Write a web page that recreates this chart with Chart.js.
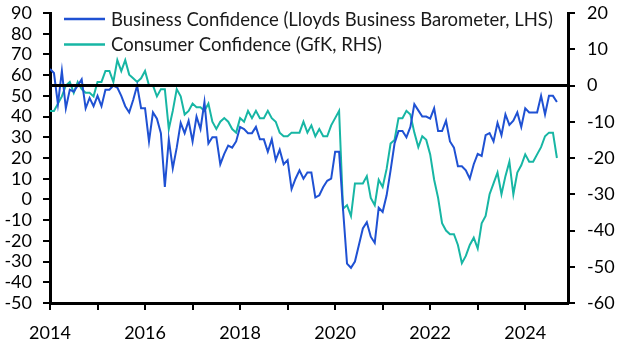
<!DOCTYPE html>
<html>
<head>
<meta charset="utf-8">
<script src="https://cdn.jsdelivr.net/npm/chart.js@4.4.1/dist/chart.umd.min.js"></script>
<style>
  html, body { margin: 0; padding: 0; background: #fff; }
</style>
</head>
<body>
<canvas id="graph1" width="627" height="352"></canvas>
<script>
// monthly readings, Jan 2014 -> Sep 2024
var startYear = 2014

// Lloyds Business Barometer (LHS)
var business = [
  63, 61, 46, 62, 44, 53, 52, 55, 58, 44, 49, 45,
  50, 45, 53, 53, 55, 54, 50, 45, 42, 48, 55, 44,
  44, 28, 42, 39, 32, 6, 29, 15, 25, 37, 32, 38,
  28, 40, 34, 47, 27, 30, 30, 17, 22, 26, 25, 28,
  35, 34, 32, 32, 35, 29, 29, 23, 29, 19, 24, 17,
  19, 5, 10, 14, 10, 13, 13, 1, 2, 6, 9, 10,
  23, 23, -5, -31, -33, -30, -22, -14, -11, -18, -21, -4,
  -6, 2, 14, 27, 33, 33, 30, 35, 46, 43, 40, 40,
  39, 44, 33, 33, 38, 28, 25, 16, 16, 14, 10, 17,
  22, 21, 31, 32, 28, 37, 31, 41, 36, 38, 42, 35,
  44, 42, 42, 42, 50, 41, 50, 50, 47
]

// GfK consumer confidence (RHS)
var consumer = [
  -7, -7, -5, -3, 0, 1, -2, 1, -1, -2, -2, -3,
  1, 1, 4, 4, 1, 7, 4, 7, 3, 2, 1, 2,
  4, 0, 0, -3, -1, -1, -12, -7, -1, -3, -8, -7,
  -5, -6, -6, -7, -5, -10, -12, -10, -9, -10, -12, -13,
  -9, -10, -7, -9, -7, -9, -9, -7, -9, -10, -13, -14,
  -14, -13, -13, -13, -10, -13, -11, -14, -12, -14, -14, -11,
  -9, -7, -34, -33, -36, -27, -27, -27, -25, -31, -33, -26,
  -28, -23, -16, -15, -9, -9, -7, -8, -13, -17, -14, -15,
  -19, -26, -31, -38, -40, -41, -41, -44, -49, -47, -44, -42,
  -45, -38, -36, -30, -27, -24, -30, -25, -21, -30, -24, -22,
  -19, -21, -21, -19, -17, -14, -13, -13, -20
]

var seriesLabels = [
  'Business Confidence (Lloyds Business Barometer, LHS)',
  'Consumer Confidence (GfK, RHS)'
]
var xLabelYears = [2014, 2016, 2018, 2020, 2022, 2024]
var xMin = 2014
var xMax = 2024.9

var blue = '#1f51d3'
var teal = '#17b6a4'

Chart.defaults.font.family = 'Lato'
Chart.defaults.font.size = 18
Chart.defaults.color = '#000'

function toPoints(values) {
  return values.map(function (v, i) {
    return { x: startYear + i / 12, y: v }
  })
}

/* legend drawn inside the plot, top left */
var insideLegend = {
  id: 'insideLegend',
  afterDraw: function (chart) {
    var c = chart.ctx
    var row = 0
    c.save()
    chart.data.datasets.forEach(function (ds) {
      if (!ds.label) return
      var y = 19 + row * 25.5
      c.strokeStyle = ds.borderColor
      c.lineWidth = 2.5
      c.beginPath()
      c.moveTo(64, y)
      c.lineTo(105, y)
      c.stroke()
      c.fillStyle = '#1a1a1a'
      c.font = '18.5px Lato'
      c.textBaseline = 'middle'
      c.fillText(ds.label, 111, y + 1)
      row++
    })
    c.restore()
  }
}

function axisGrid() {
  return { drawOnChartArea: false, drawTicks: true, tickLength: 7, color: '#000', lineWidth: 2 }
}

// keep the plot box fixed, labels may hang over the edges
function noPad(s) {
  s.paddingTop = 0
  s.paddingBottom = 0
  s.paddingLeft = 0
  s.paddingRight = 0
}

var data = {
  datasets: [
    {
      label: '',
      data: [{ x: xMin, y: 0 }, { x: xMax, y: 0 }],
      borderColor: '#000',
      borderWidth: 3,
      pointRadius: 0,
      yAxisID: 'y2',
      order: 0
    },
    {
      label: seriesLabels[0],
      data: toPoints(business),
      borderColor: blue,
      borderWidth: 2,
      pointRadius: 0,
      yAxisID: 'y',
      order: 1
    },
    {
      label: seriesLabels[1],
      data: toPoints(consumer),
      borderColor: teal,
      borderWidth: 2,
      pointRadius: 0,
      yAxisID: 'y2',
      order: 2
    }
  ]
}

var options = {
  responsive: false,
  devicePixelRatio: 1,
  animation: false,
  layout: { padding: { top: 13, left: 0, right: 0, bottom: 0 } },
  plugins: { legend: { display: false }, tooltip: { enabled: false } },
  scales: {
    x: {
      type: 'linear',
      min: xMin,
      max: xMax,
      afterBuildTicks: function (s) {
        s.ticks = s.ticks.filter(function (t) { return Number.isInteger(t.value) })
      },
      ticks: {
        stepSize: 1,
        includeBounds: false,
        autoSkip: false,
        maxRotation: 0,
        padding: 12,
        callback: function (v) { return xLabelYears.indexOf(v) >= 0 ? String(v) : '' }
      },
      grid: axisGrid(),
      border: { display: true, color: '#000', width: 3 },
      afterFit: function (s) { s.height = 49; noPad(s) }
    },
    y: {
      position: 'left',
      min: -50,
      max: 90,
      ticks: { stepSize: 10, padding: 11, autoSkip: false },
      grid: axisGrid(),
      border: { display: true, color: '#000', width: 3 },
      afterFit: function (s) { s.width = 50; noPad(s) }
    },
    y2: {
      position: 'right',
      min: -60,
      max: 20,
      ticks: { stepSize: 10, padding: 12, autoSkip: false },
      grid: axisGrid(),
      border: { display: true, color: '#000', width: 3 },
      afterFit: function (s) { s.width = 59; noPad(s) }
    }
  }
}

var config = {
  type: 'line',
  data: data,
  options: options,
  plugins: [insideLegend]
}

/* build chart */
var graph1 = new Chart(document.getElementById('graph1').getContext('2d'), config)
</script>
</body>
</html>
